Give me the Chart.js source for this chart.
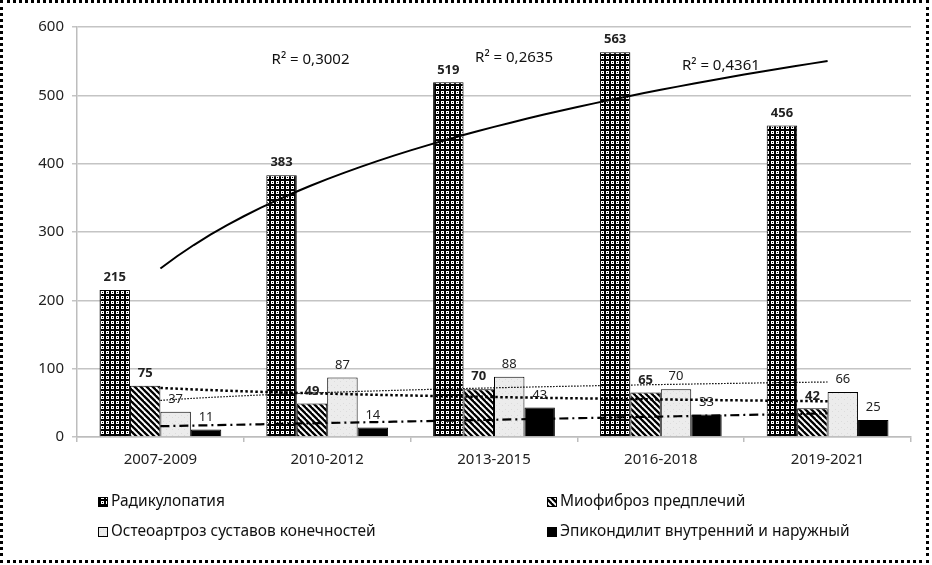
<!DOCTYPE html>
<html>
<head>
<meta charset="utf-8">
<script src="https://cdn.jsdelivr.net/npm/chart.js@4.4.1/dist/chart.umd.min.js"></script>
<style>
  html, body { margin: 0; padding: 0; background: #fff; }
  #wrap { position: relative; width: 932px; height: 565px; }
  #frame { position: absolute; left: 0; top: 0; width: 923px; height: 557px; border: 3px dotted #000; pointer-events: none; }
  canvas { position: absolute; left: 0; top: 0; }
</style>
</head>
<body>
<div id="wrap">
  <canvas id="chart" width="932" height="565"></canvas>
  <div id="frame"></div>
</div>
<script>
const periods = ['2007-2009', '2010-2012', '2013-2015', '2016-2018', '2019-2021'];
const radiculopathy = [215, 383, 519, 563, 456];
const myofibrosis = [75, 49, 70, 65, 42];
const osteoarthrosis = [37, 87, 88, 70, 66];
const epicondylitis = [11, 14, 43, 33, 25];
const seriesNames = ['Радикулопатия', 'Миофиброз предплечий', 'Остеоартроз суставов конечностей', 'Эпикондилит внутренний и наружный'];
const rSquaredTexts = ['R² = 0,3002', 'R² = 0,2635', 'R² = 0,4361'];

const FONT = '"Noto Sans", sans-serif';

// small tiles used as bar fills
function makePattern(kind) {
  const c = document.createElement('canvas');
  const s = kind === 'dots' ? 5 : 6;
  c.width = s; c.height = s;
  const g = c.getContext('2d');
  if (kind === 'dots') {
    g.fillStyle = '#000';
    g.fillRect(0, 0, s, s);
    g.strokeStyle = '#fff';
    g.lineWidth = 1;
    g.strokeRect(1.5, 1.5, 2, 2);
  } else if (kind === 'diag') {
    g.fillStyle = '#fff';
    g.fillRect(0, 0, s, s);
    g.strokeStyle = '#000';
    g.lineWidth = 2.3;
    [-s, 0, s].forEach(x0 => {
      g.beginPath();
      g.moveTo(x0 - 1, -1);
      g.lineTo(x0 + s + 1, s + 1);
      g.stroke();
    });
  } else {
    g.fillStyle = '#ececec';
    g.fillRect(0, 0, s, s);
    g.fillStyle = '#dcdcdc';
    g.fillRect(1, 1, 1, 1);
    g.fillRect(4, 3, 1, 1);
  }
  return g.createPattern(c, 'repeat');
}

const fills = [makePattern('dots'), makePattern('diag'), makePattern('light'), '#000'];

// Excel-style trendline: least squares on x = 1..n, returns points in category index units
function trend(values, type) {
  const xs = values.map((v, i) => type === 'log' ? Math.log(i + 1) : i + 1);
  const n = xs.length;
  const mx = xs.reduce((a, b) => a + b, 0) / n;
  const my = values.reduce((a, b) => a + b, 0) / n;
  let sxy = 0, sxx = 0;
  xs.forEach((x, i) => { sxy += (x - mx) * (values[i] - my); sxx += (x - mx) * (x - mx); });
  const a = sxy / sxx, b = my - a * mx;
  const pts = [];
  for (let k = 0; k <= 40; k++) {
    const x = 1 + k * 0.1;
    pts.push({ x: x - 1, y: a * (type === 'log' ? Math.log(x) : x) + b });
  }
  return pts;
}

const trendStyles = [
  { values: radiculopathy, type: 'log', width: 2, dash: [] },
  { values: myofibrosis, type: 'log', width: 2.5, dash: [2.5, 2.5] },
  { values: osteoarthrosis, type: 'log', width: 1.2, dash: [1.5, 1.5] },
  { values: epicondylitis, type: 'linear', width: 2.2, dash: [9, 4, 2, 4] }
];

function barSet(i, data, bold) {
  return {
    label: seriesNames[i], data: data,
    backgroundColor: fills[i], borderColor: '#000', borderWidth: 1,
    categoryPercentage: 0.73, barPercentage: 1.0, boldLabels: bold
  };
}

const trendLines = {
  id: 'trendLines',
  afterDatasetsDraw(chart) {
    const ctx = chart.ctx, xs = chart.scales.x, ys = chart.scales.y;
    trendStyles.forEach(t => {
      ctx.save();
      ctx.beginPath();
      trend(t.values, t.type).forEach((p, k) => {
        const px = xs.getPixelForValue(p.x), py = ys.getPixelForValue(p.y);
        if (k === 0) ctx.moveTo(px, py); else ctx.lineTo(px, py);
      });
      ctx.strokeStyle = '#000';
      ctx.lineWidth = t.width;
      ctx.setLineDash(t.dash);
      ctx.stroke();
      ctx.restore();
    });
  }
};

// value labels over bars
const barLabels = {
  id: 'barLabels',
  afterDraw(chart) {
    const ctx = chart.ctx;
    chart.data.datasets.forEach((ds, i) => {
      const meta = chart.getDatasetMeta(i);
      ctx.save();
      ctx.font = (ds.boldLabels ? 'bold 13px ' : '13px ') + FONT;
      ctx.fillStyle = '#222';
      ctx.textAlign = 'center';
      ctx.textBaseline = 'bottom';
      meta.data.forEach((bar, j) => {
        ctx.fillText(ds.data[j], bar.x, bar.y - 6);
      });
      ctx.restore();
    });
  }
};

// R² notes, placed in data coordinates (category index, value)
const rNotes = [[0.9, 552], [2.12, 555], [3.36, 543]];
const rSquared = {
  id: 'rSquared',
  afterDraw(chart) {
    const ctx = chart.ctx;
    const xs = chart.scales.x, ys = chart.scales.y;
    ctx.save();
    ctx.font = '15px ' + FONT;
    ctx.fillStyle = '#111';
    ctx.textAlign = 'center';
    ctx.textBaseline = 'middle';
    rNotes.forEach((p, i) => {
      ctx.fillText(rSquaredTexts[i], xs.getPixelForValue(p[0]), ys.getPixelForValue(p[1]));
    });
    ctx.restore();
  }
};

// two-column legend under the axis
const gridLegend = {
  id: 'gridLegend',
  afterDraw(chart) {
    const ctx = chart.ctx;
    const left = chart.chartArea.left;
    const cols = [left + 21, left + 470];
    const rows = [502, 532];
    ctx.save();
    ctx.font = '15.5px ' + FONT;
    ctx.textBaseline = 'middle';
    seriesNames.forEach((name, i) => {
      const x = cols[i % 2], y = rows[Math.floor(i / 2)];
      ctx.fillStyle = fills[i];
      ctx.fillRect(x, y - 5, 10, 10);
      ctx.strokeStyle = '#000';
      ctx.lineWidth = 1;
      ctx.strokeRect(x + 0.5, y - 4.5, 9, 9);
      ctx.fillStyle = '#111';
      ctx.fillText(name, x + 13, y);
    });
    ctx.restore();
  }
};

new Chart(document.getElementById('chart'), {
  type: 'bar',
  data: {
    labels: periods,
    datasets: [
      barSet(0, radiculopathy, true),
      barSet(1, myofibrosis, true),
      barSet(2, osteoarthrosis, false),
      barSet(3, epicondylitis, false)
    ]
  },
  plugins: [trendLines, barLabels, rSquared, gridLegend],
  options: {
    responsive: false,
    animation: false,
    layout: { padding: { left: 0, top: 27, right: 21, bottom: 88 } },
    scales: {
      x: {
        grid: { offset: true, drawOnChartArea: false, drawTicks: true, tickLength: 5, color: '#bdbdbd', lineWidth: 1.5 },
        border: { color: '#bdbdbd', width: 1.5 },
        ticks: { color: '#222', font: { family: FONT, size: 15 }, padding: 9 },
        afterFit(scale) { scale.height = 40; }
      },
      y: {
        min: 0, max: 600,
        ticks: { stepSize: 100, color: '#222', font: { family: FONT, size: 15 }, padding: 8 },
        grid: { color: '#c4c4c4', lineWidth: 1.5, tickLength: 5 },
        border: { color: '#bdbdbd', width: 1.5 },
        afterFit(scale) { scale.width = 77; }
      }
    },
    plugins: {
      legend: { display: false },
      title: { display: false },
      tooltip: { enabled: false }
    }
  }
});
</script>
</body>
</html>
